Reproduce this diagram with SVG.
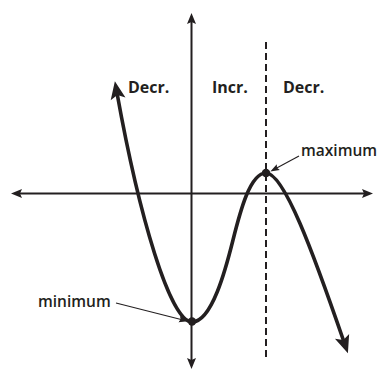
<svg xmlns="http://www.w3.org/2000/svg" width="378" height="371" viewBox="0 0 378 371">
<style>
.axis{stroke:#231f20;stroke-width:2;fill:none}
.dash{stroke:#231f20;stroke-width:2;fill:none;stroke-dasharray:7 4}
.curve{stroke:#231f20;stroke-width:3.6;fill:none}
.leader{stroke:#231f20;stroke-width:1.1;fill:none}
.lbl{font-family:"Open Sans","Noto Sans",sans-serif;font-size:15.5px;fill:#231f20}
.hdr{font-weight:700;font-size:16px}
.pt{font-weight:600}
</style>
<defs>
<marker id="ax" markerUnits="userSpaceOnUse" markerWidth="14" markerHeight="12" viewBox="-6 -6 14 12" refX="0" refY="0" orient="auto-start-reverse">
<path d="M6,0 L-5,-4.5 L-3,0 L-5,4.5 Z" fill="#231f20"/>
</marker>
<marker id="cv" markerUnits="userSpaceOnUse" markerWidth="22" markerHeight="18" viewBox="-8 -9 22 18" refX="0" refY="0" orient="auto-start-reverse">
<path d="M12,0 L-6,-7.5 L-2,0 L-6,7.5 Z" fill="#231f20"/>
</marker>
<marker id="sm" markerUnits="userSpaceOnUse" markerWidth="12" markerHeight="10" viewBox="-6 -5 12 10" refX="0" refY="0" orient="auto">
<path d="M3,0 L-6,-3.2 L-4.5,0 L-6,3.2 Z" fill="#231f20"/>
</marker>
</defs>
<g id="connectors">
<line id="x-axis" class="axis" x1="17" y1="193.5" x2="367" y2="193.5" marker-start="url(#ax)" marker-end="url(#ax)"/>
<line id="y-axis" class="axis" x1="191.5" y1="19" x2="191.5" y2="363" marker-start="url(#ax)" marker-end="url(#ax)"/>
<line id="divider" class="dash" x1="266" y1="42" x2="266" y2="357"/>
<path id="graph" class="curve" d="M117,93 C139,215 170,322 192,322 C212,322 226,268 233,240 C240,212 250,173 266,173 C284,173 313,252 344,342" marker-start="url(#cv)" marker-end="url(#cv)"/>
<line id="min-leader" class="leader" x1="116" y1="303" x2="185" y2="320.5" marker-end="url(#sm)"/>
<line id="max-leader" class="leader" x1="299" y1="156" x2="273" y2="170" marker-end="url(#sm)"/>
</g>
<g id="region-left"><text class="lbl hdr" x="128" y="93">Decr.</text></g>
<g id="region-middle"><text class="lbl hdr" x="212" y="93">Incr.</text></g>
<g id="region-right"><text class="lbl hdr" x="283" y="93">Decr.</text></g>
<g id="maximum">
<circle cx="266" cy="173" r="4.2" fill="#231f20"/>
<text class="lbl pt" x="301" y="156">maximum</text>
</g>
<g id="minimum">
<circle cx="192" cy="321.5" r="4.2" fill="#231f20"/>
<text class="lbl pt" x="38" y="307">minimum</text>
</g>
</svg>
